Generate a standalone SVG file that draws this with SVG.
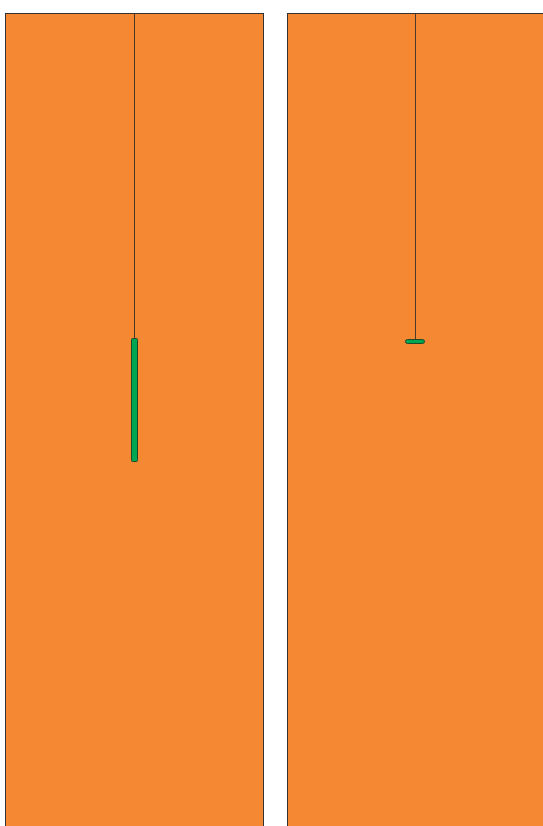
<svg xmlns="http://www.w3.org/2000/svg" width="543" height="826" viewBox="0 0 543 826">
<style>
.soil{fill:#F58833;stroke:#333;stroke-width:1}
.wire{stroke:#4a3a2a;stroke-width:1;fill:none}
.tool{fill:#00A651;stroke:#1d4a2a;stroke-width:1}
</style>
<rect width="543" height="826" fill="#fff"/>
<g id="left-panel">
<rect class="soil" x="5.5" y="13.5" width="258" height="830"/>
</g>
<g id="right-panel">
<rect class="soil" x="287.5" y="13.5" width="270" height="830"/>
</g>
<g id="connectors">
<line class="wire" x1="134.5" y1="13.5" x2="134.5" y2="339"/>
<line class="wire" x1="415.5" y1="13.5" x2="415.5" y2="340"/>
</g>
<g id="vertical-tool">
<rect class="tool" x="131.5" y="338.5" width="6" height="123" rx="1"/>
</g>
<g id="horizontal-tool">
<rect class="tool" x="405.5" y="339.5" width="19" height="4" rx="2"/>
</g>
</svg>
